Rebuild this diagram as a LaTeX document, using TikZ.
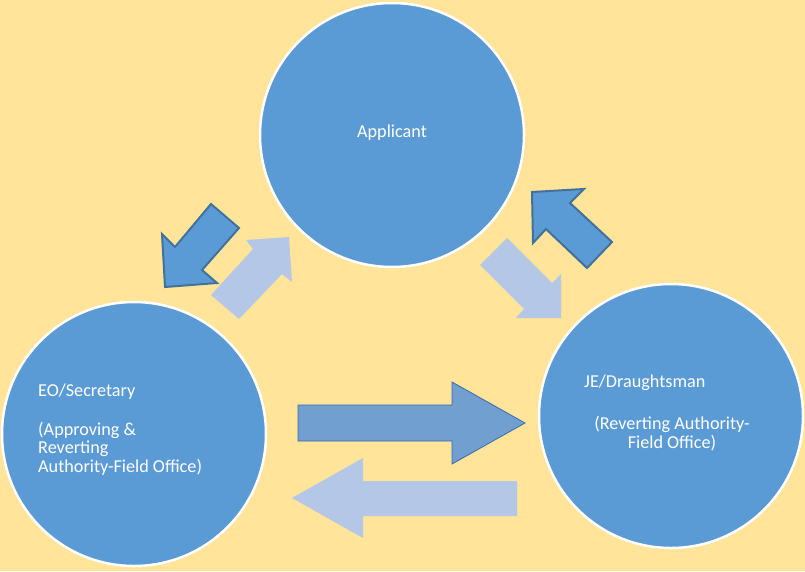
\documentclass[tikz,border=0pt]{standalone}
\usepackage{fontspec}
\setmainfont{Carlito}
\definecolor{bgY}{HTML}{FFE499}
\definecolor{circB}{HTML}{5B9BD5}
\definecolor{lightA}{HTML}{B4C7E7}
\definecolor{darkEdge}{HTML}{41719C}
\definecolor{midA}{HTML}{719FCF}
\definecolor{midEdge}{HTML}{3A6AAE}
\begin{document}
\begin{tikzpicture}[x=1pt,y=-1pt,
  bubble/.style={circle,fill=circB,draw=white,line width=2.5pt,minimum size=264pt,inner sep=0pt},
  lbl/.style={text=white,font=\fontsize{18.2}{21}\selectfont,inner sep=0pt,yshift=-2pt},
  darkarrow/.style={fill=circB,draw=darkEdge,line width=2pt,line join=miter},
  lightarrow/.style={fill=lightA,draw=none},
  midarrow/.style={fill=midA,draw=midEdge,line width=0.8pt}]
\fill[bgY] (0,0) rectangle (805,571);
\useasboundingbox (0,0) rectangle (805,571);
% circles
\node[bubble] (app) at (392,135) {};
\node[bubble] (eo) at (134,434) {};
\node[bubble] (je) at (671,416) {};
% labels
\node[lbl] (tapp) at (392,131) {Applicant};
\node[lbl,anchor=west] (teo1) at (38,390) {EO/Secretary};
\node[lbl,anchor=west] (teo2) at (38,428) {(Approving \&};
\node[lbl,anchor=west] (teo3) at (38,447) {Reverting};
\node[lbl,anchor=west] (teo4) at (38,465) {Authority-Field Office)};
\node[lbl,anchor=west] (tje1) at (584,381) {JE/Draughtsman};
\node[lbl] (tje2) at (672,422) {(Reverting Authority-};
\node[lbl] (tje3) at (672,441) {Field Office)};
% block arrows
\draw[darkarrow] (211,204) -- (239,228) -- (202,270) -- (217,283) -- (165,287) -- (162,234) -- (175,247) -- cycle;
\fill[lightarrow] (289,237) -- (292,282) -- (282,274) -- (239,319) -- (211,295) -- (253,249) -- (246,240) -- cycle;
\draw[darkarrow] (532,192) -- (584,189) -- (570,203) -- (612,242) -- (587,268) -- (546,229) -- (533,243) -- cycle;
\fill[lightarrow] (507,238) -- (552,283) -- (561,274) -- (561,318) -- (516,318) -- (524,309) -- (480,265) -- cycle;
\draw[midarrow] (298,405) -- (452,405) -- (452,382) -- (525,423) -- (452,464) -- (452,441) -- (298,441) -- cycle;
\fill[lightarrow] (292,498) -- (363,458) -- (363,481) -- (517,481) -- (517,516) -- (363,516) -- (363,538) -- cycle;
\end{tikzpicture}
\end{document}
